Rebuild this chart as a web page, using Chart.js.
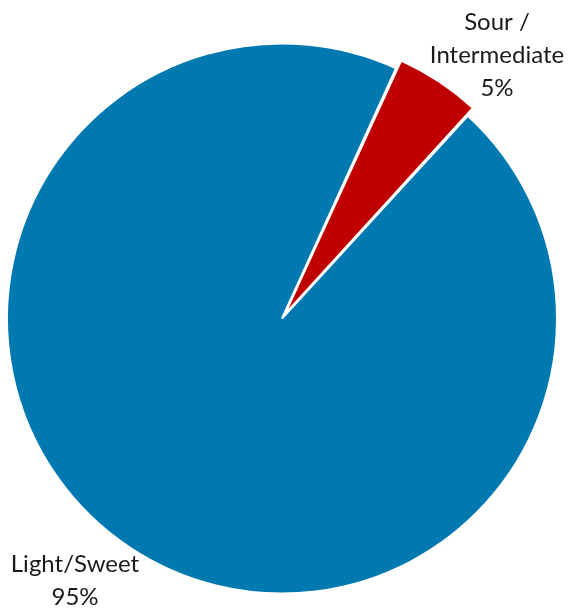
<!DOCTYPE html>
<html>
<head>
<meta charset="utf-8">
<script src="https://cdn.jsdelivr.net/npm/chart.js@4/dist/chart.umd.min.js"></script>
<style>
  html, body { margin: 0; padding: 0; background: #fff; }
  #wrap { width: 572px; height: 613px; }
</style>
</head>
<body>
<div id="wrap"><canvas id="pie"></canvas></div>
<script>
const categories = ['Light/Sweet', 'Sour / Intermediate'];
const shares = [95, 5];
const colors = ['#0078B0', '#C00000'];

// label text per slice, one entry per line, drawn at its anchor
const labelLines = [
  ['Light/Sweet', '95%'],
  ['Sour /', 'Intermediate', '5%']
];
const labelAnchors = [
  { x: 75, y: 572 },
  { x: 497, y: 30 }
];

const sliceLabels = {
  id: 'sliceLabels',
  afterDraw(chart) {
    const ctx = chart.ctx;
    ctx.save();
    ctx.font = '24px Lato, "Liberation Sans", sans-serif';
    ctx.fillStyle = '#1a1a1a';
    ctx.textAlign = 'center';
    ctx.textBaseline = 'alphabetic';
    labelLines.forEach((lines, i) => {
      const a = labelAnchors[i];
      lines.forEach((t, j) => ctx.fillText(t, a.x, a.y + j * 33));
    });
    ctx.restore();
  }
};

new Chart(document.getElementById('pie'), {
  type: 'pie',
  data: {
    labels: categories,
    datasets: [{
      data: shares,
      backgroundColor: colors,
      borderColor: '#ffffff',
      borderWidth: 2,
      offset: [0, 22]
    }]
  },
  options: {
    responsive: true,
    maintainAspectRatio: false,
    animation: false,
    rotation: 42.5,
    radius: 275,
    layout: { padding: { left: 0, right: 8, top: 24, bottom: 0 } },
    plugins: {
      legend: { display: false },
      tooltip: { enabled: false }
    }
  },
  plugins: [sliceLabels]
});
</script>
</body>
</html>
